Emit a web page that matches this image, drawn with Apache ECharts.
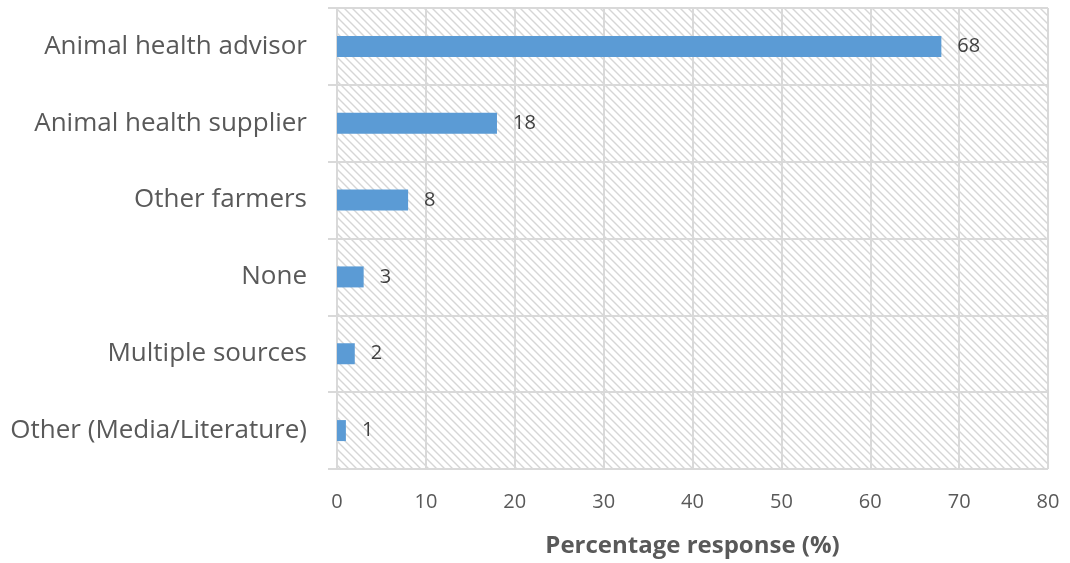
<!DOCTYPE html>
<html>
<head>
<meta charset="utf-8">
<script src="https://cdn.jsdelivr.net/npm/echarts@6/dist/echarts.min.js"></script>
<style>
  html, body { margin: 0; padding: 0; background: #ffffff; }
  #chart { width: 1070px; height: 563px; }
</style>
</head>
<body>
<div id="chart"></div>
<script>
// Sources of information, bottom to top as drawn on the category axis
const categories = [
  'Other (Media/Literature)',
  'Multiple sources',
  'None',
  'Other farmers',
  'Animal health supplier',
  'Animal health advisor'
];
const responses = [1, 2, 3, 8, 18, 68];
const xTicks = [0, 10, 20, 30, 40, 50, 60, 70, 80];
const xTitle = 'Percentage response (%)';

// Light diagonal hatch used behind the plot
function makeHatch() {
  const size = 8;
  const c = document.createElement('canvas');
  c.width = size; c.height = size;
  const g = c.getContext('2d');
  g.fillStyle = '#ffffff';
  g.fillRect(0, 0, size, size);
  g.strokeStyle = '#d6d6d6';
  g.lineWidth = 1.4;
  g.beginPath();
  g.moveTo(-1, -1); g.lineTo(size + 1, size + 1);
  g.moveTo(-1, size - 1); g.lineTo(1, size + 1);
  g.moveTo(size - 1, -1); g.lineTo(size + 1, 1);
  g.stroke();
  return c;
}

const chart = echarts.init(document.getElementById('chart'), null, { renderer: 'canvas' });
const font = '"Open Sans", "Liberation Sans", sans-serif';

chart.setOption({
  animation: false,
  backgroundColor: '#ffffff',
  grid: {
    left: 337, right: 22, top: 8, bottom: 93,
    show: true,
    borderWidth: 0,
    backgroundColor: { image: makeHatch(), repeat: 'repeat' }
  },
  xAxis: {
    type: 'value',
    min: xTicks[0],
    max: xTicks[xTicks.length - 1],
    interval: 10,
    name: xTitle,
    nameLocation: 'middle',
    nameGap: 65,
    nameTextStyle: { fontFamily: font, fontSize: 24, fontWeight: 'bold', color: '#595959' },
    axisLine: { show: false },
    axisTick: { show: false },
    axisLabel: { fontFamily: font, fontSize: 20, color: '#595959', margin: 23 },
    splitLine: { show: true, lineStyle: { color: '#d9d9d9', width: 2 } }
  },
  yAxis: {
    type: 'category',
    data: categories,
    axisLine: { show: true, lineStyle: { color: '#d9d9d9', width: 2 } },
    axisTick: { show: true, length: 9, lineStyle: { color: '#d9d9d9', width: 2 } },
    axisLabel: { fontFamily: font, fontSize: 26, color: '#595959', margin: 30 },
    splitLine: { show: true, lineStyle: { color: '#d9d9d9', width: 2 } }
  },
  series: [{
    type: 'bar',
    data: responses,
    barWidth: 21,
    itemStyle: { color: '#5b9bd5' },
    label: {
      show: true,
      position: 'right',
      distance: 16,
      fontFamily: font,
      fontSize: 20,
      color: '#404040'
    }
  }]
});
</script>
</body>
</html>
